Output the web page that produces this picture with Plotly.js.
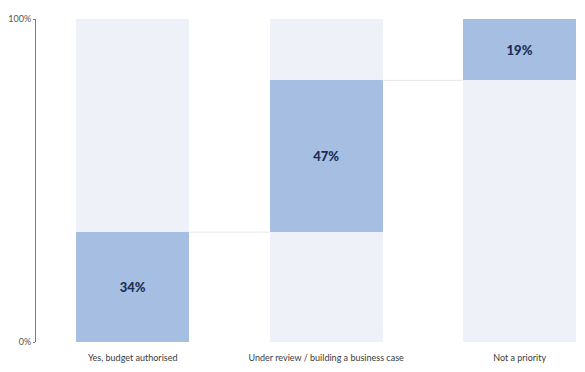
<!DOCTYPE html>
<html>
<head>
<meta charset="utf-8">
<script src="https://cdn.plot.ly/plotly-3.0.1.min.js"></script>
<style>html,body{margin:0;padding:0;background:#fff;}#chart{width:585px;height:372px;}</style>
</head>
<body>
<div id="chart"></div>
<script>
const categories = ["Yes, budget authorised", "Under review / building a business case", "Not a priority"];
const shares = [34, 47, 19];
const totals = [100, 100, 100];
const yTickVals = [0, 100];
const yTickText = ["0%", "100%"];

const bases = [];
let acc = 0;
for (const v of shares) { bases.push(acc); acc += v; }
const xs = [0, 1, 2];
const barWidth = 0.584;

const bg = {
  type: 'bar', x: xs, y: totals, base: [0, 0, 0], width: barWidth,
  marker: {color: '#eef2f8'}, hoverinfo: 'skip', showlegend: false
};
const fg = {
  type: 'bar', x: xs, y: shares, base: bases, width: barWidth,
  marker: {color: '#a5bee2'},
  text: shares.map(v => v + '%'), textposition: 'inside', insidetextanchor: 'middle',
  textfont: {family: 'Lato, sans-serif', size: 13, color: '#1e2d52', weight: 900},
  showlegend: false
};
const capTrace = {
  type: 'scatter', x: [], y: [], yaxis: 'y2', showlegend: false, hoverinfo: 'skip'
};

const shapes = [];
for (let i = 0; i < shares.length - 1; i++) {
  const level = bases[i] + shares[i];
  shapes.push({type: 'line', xref: 'x', yref: 'y', x0: xs[i] + barWidth / 2, x1: xs[i + 1] - barWidth / 2,
    y0: level, y1: level, line: {color: '#e6e8ec', width: 1}});
}

const layout = {
  width: 585, height: 372,
  margin: {l: 36, r: 0, t: 19, b: 30},
  paper_bgcolor: '#fff', plot_bgcolor: '#fff',
  barmode: 'overlay', bargap: 0,
  font: {family: 'Lato, sans-serif', color: '#444'},
  xaxis: {
    range: [-0.5, 2.338], tickvals: xs, ticktext: categories,
    showgrid: false, zeroline: false, showline: false, ticks: '',
    ticklabelstandoff: 9,
    tickfont: {size: 9, color: '#3a3a3a'}, fixedrange: true
  },
  yaxis: {
    range: [0, 100], tickvals: yTickVals, ticktext: yTickText,
    showgrid: false, zeroline: false, showline: true, linecolor: '#7a7a7a', linewidth: 1,
    ticks: 'outside', ticklen: 2, tickcolor: '#7a7a7a',
    tickfont: {size: 9, color: '#555'}, fixedrange: true
  },
  yaxis2: {
    overlaying: 'y', side: 'left', range: [0, 100], tickvals: yTickVals, showticklabels: false,
    showgrid: false, zeroline: false, showline: false,
    ticks: 'inside', ticklen: 2, tickcolor: '#7a7a7a', fixedrange: true
  },
  shapes: shapes
};

Plotly.newPlot('chart', [bg, fg, capTrace], layout, {displayModeBar: false, staticPlot: true});
</script>
</body>
</html>
